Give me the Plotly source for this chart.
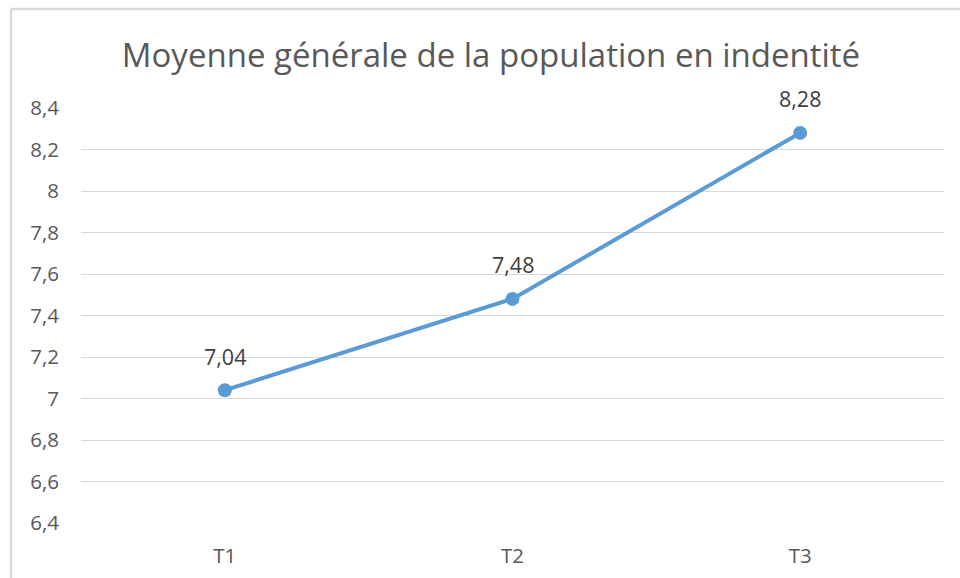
import plotly.graph_objects as go

categories = ["T1", "T2", "T3"]
values = [7.04, 7.48, 8.28]
value_labels = ["7,04", "7,48", "8,28"]
title_text = "Moyenne générale de la population en indentité"

W, H = 960, 578
ml, mr, mt, mb = 81, 16, 108, 55
pw, ph = W - ml - mr, H - mt - mb

def px_x(p):
    return (p - ml) / pw

def px_y(p):
    return 1 - (p - mt) / ph

FONT = "Open Sans"

fig = go.Figure()
fig.add_trace(go.Scatter(
    x=categories, y=values, mode="lines+markers",
    line=dict(color="#5B9BD5", width=4),
    marker=dict(color="#5B9BD5", size=14),
    hoverinfo="skip", showlegend=False,
))

for c, v, t in zip(categories, values, value_labels):
    fig.add_annotation(x=c, y=v, text=t, showarrow=False, yshift=34,
                       font=dict(family=FONT, size=21.5, color="#404040"))

# chart-area border (top and left edges visible in the crop)
fig.add_shape(type="line", xref="paper", yref="paper",
              x0=px_x(11), x1=px_x(962), y0=px_y(9), y1=px_y(9),
              line=dict(color="#D9D9D9", width=2.5), layer="below")
fig.add_shape(type="line", xref="paper", yref="paper",
              x0=px_x(11), x1=px_x(11), y0=px_y(9), y1=px_y(580),
              line=dict(color="#D9D9D9", width=2.5), layer="below")

fig.update_layout(
    width=W, height=H,
    margin=dict(l=ml, r=mr, t=mt, b=mb, autoexpand=False),
    paper_bgcolor="white", plot_bgcolor="white",
    separators=", ",
    title=dict(text=title_text, x=491 / W, xanchor="center",
               y=1 - 55 / H, yanchor="middle",
               font=dict(family=FONT, size=33, color="#595959")),
    font=dict(family=FONT, color="#595959", size=21),
    xaxis=dict(type="category", range=[-0.5, 2.5], showgrid=False, showline=False,
               zeroline=False, ticks="", ticklabelstandoff=18,
               tickfont=dict(family=FONT, size=20.5, color="#595959")),
    yaxis=dict(range=[6.4, 8.4], dtick=0.2, tick0=6.4, showgrid=True,
               gridcolor="#D9D9D9", gridwidth=1, zeroline=False, showline=False,
               ticks="", ticklabelstandoff=21,
               tickfont=dict(family=FONT, size=20.5, color="#595959")),
)

fig.write_html(
    "out.html",
    config={"displayModeBar": False},
    post_script="document.body.style.margin='0';document.body.style.overflow='hidden';"
                "document.documentElement.style.overflow='hidden';",
)
